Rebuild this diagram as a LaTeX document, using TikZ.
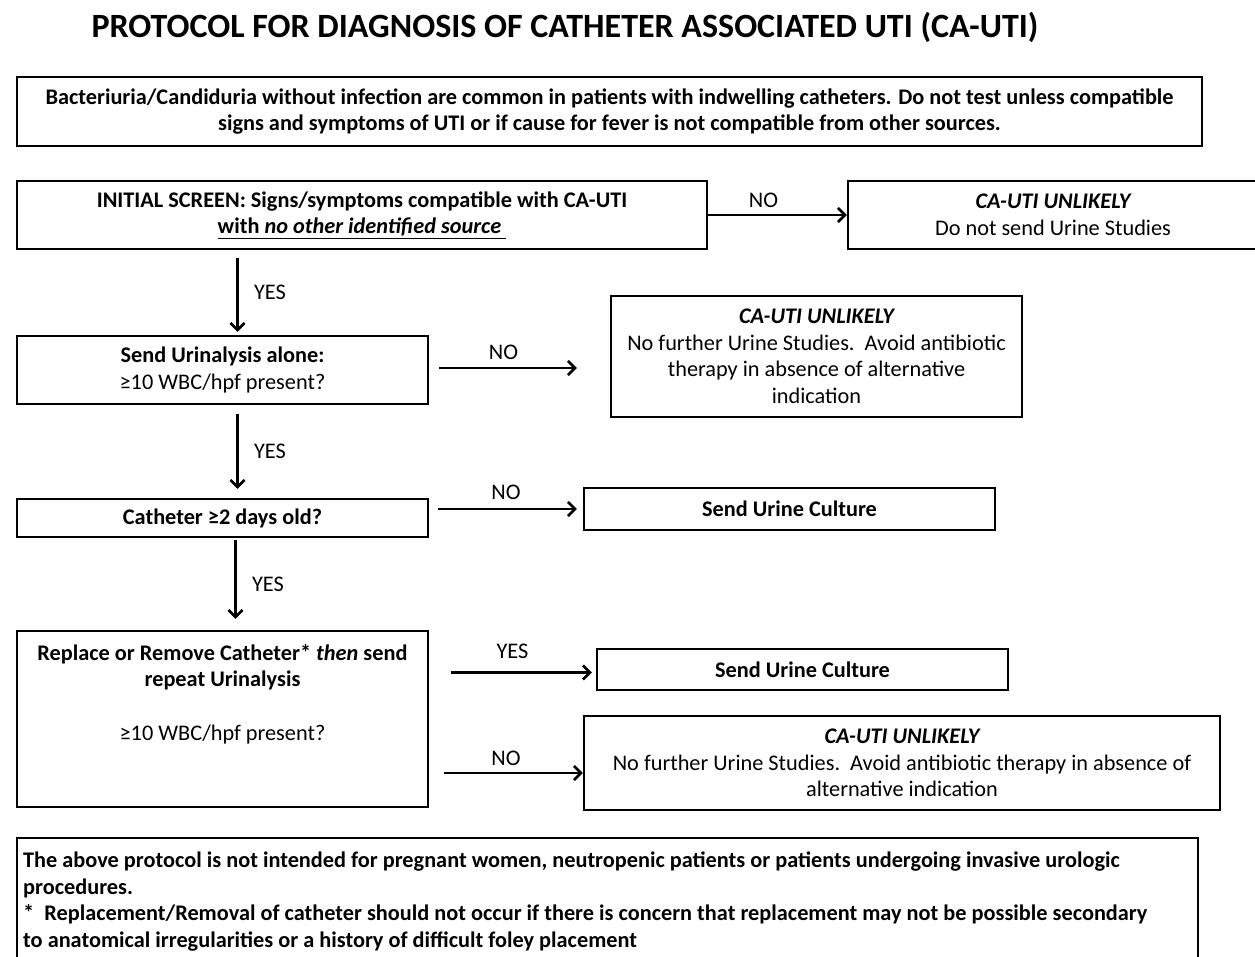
\documentclass[tikz,border=0pt]{standalone}
\usepackage{fontspec}
\setmainfont{Carlito}
\usetikzlibrary{arrows.meta}

\begin{document}
\begin{tikzpicture}[x=1pt, y=-1pt, >={Straight Barb[length=7pt,width=14pt]},
  every node/.style={font=\fontsize{22.3}{26.5}\selectfont},
  box/.style={draw, line width=2.4pt, align=center, inner sep=0pt},
  arr/.style={->, line width=2.6pt}]

  \clip (0,0) rectangle (1255,956);
  \useasboundingbox (0,0) rectangle (1255,956);

  % title
  \node (title) at (565,27) {\fontsize{34}{38}\selectfont\bfseries PROTOCOL FOR DIAGNOSIS OF CATHETER ASSOCIATED UTI (CA-UTI)};

  % positions
  \node[box, minimum width=1185, minimum height=69] (note) at (609.5,111.5)
    {\bfseries Bacteriuria/Candiduria without infection are common in patients with indwelling catheters. Do not test unless compatible\\
     \bfseries signs and symptoms of UTI or if cause for fever is not compatible from other sources.};
  \node[box, minimum width=690, minimum height=68] (screen) at (362,215)
    {\bfseries INITIAL SCREEN: Signs/symptoms compatible with CA-UTI\\
     \bfseries\underline{with \itshape no other identified source }};
  \node[box, minimum width=410, minimum height=68] (un1) at (1053,215)
    {\bfseries\itshape CA-UTI UNLIKELY\\ Do not send Urine Studies};
  \node[box, minimum width=411, minimum height=68] (ua) at (222.5,370)
    {\bfseries Send Urinalysis alone:\\ ≥10 WBC/hpf present?};
  \node[box, minimum width=411, minimum height=121] (un2) at (816.5,356.5)
    {\bfseries\itshape CA-UTI UNLIKELY\\ No further Urine Studies.\ \ Avoid antibiotic\\ therapy in absence of alternative\\ indication};
  \node[box, minimum width=411, minimum height=38] (cath) at (222.5,518)
    {\bfseries Catheter ≥2 days old?};
  \node[box, minimum width=411, minimum height=42] (uc1) at (789.5,509)
    {\bfseries Send Urine Culture};
  \node[box, minimum width=411, minimum height=176] (rep) at (222.5,719) {};
  \node[align=center] (reptext) at (222.5,694)
    {\bfseries Replace or Remove Catheter* \itshape then \upshape send\\ \bfseries repeat Urinalysis\\[27pt] ≥10 WBC/hpf present?};
  \node[box, minimum width=411, minimum height=41] (uc2) at (802.5,669.5)
    {\bfseries Send Urine Culture};
  \node[box, minimum width=636, minimum height=94] (un3) at (902,763)
    {\bfseries\itshape CA-UTI UNLIKELY\\ No further Urine Studies.\ \ Avoid antibiotic therapy in absence of\\ alternative indication};
  \node[box, minimum width=1181, minimum height=124] (foot) at (607.5,900) {};
  \node[anchor=north west, align=left, inner sep=0pt] (foottext) at (23,852)
    {\bfseries The above protocol is not intended for pregnant women, neutropenic patients or patients undergoing invasive urologic\\
     \bfseries procedures.\\
     \bfseries *\ \ Replacement/Removal of catheter should not occur if there is concern that replacement may not be possible secondary\\
     \bfseries to anatomical irregularities or a history of difficult foley placement};

  % arrows
  \draw[arr] (screen.east) -- (un1.west) node[midway, above=3pt, xshift=-14pt] {NO};
  \draw[arr, shorten <=8pt, shorten >=3pt] ([xshift=15pt]ua.north |- screen.south) -- ([xshift=15pt]ua.north)
    node[midway, right=12pt] {YES};
  \draw[arr, shorten <=10pt, shorten >=33pt] ([yshift=2pt]ua.east) -- ([yshift=2pt]ua.east -| un2.west)
    node[midway, above=4pt, xshift=-16pt] {NO};
  \draw[arr, shorten <=9pt, shorten >=9pt] ([xshift=15pt]cath.north |- ua.south) -- ([xshift=15pt]cath.north)
    node[midway, right=12pt] {YES};
  \draw[arr, shorten <=9pt, shorten >=6pt] (cath.east |- uc1.west) -- (uc1.west)
    node[midway, above=5pt] {NO};
  \draw[arr, shorten <=2pt, shorten >=11pt] ([xshift=13pt]rep.north |- cath.south) -- ([xshift=13pt]rep.north)
    node[midway, right=12pt] {YES};
  \draw[arr, shorten <=22pt, shorten >=4pt] ([yshift=-3pt]rep.east |- uc2.west) -- ([yshift=-3pt]uc2.west)
    node[midway, above=9pt] {YES};
  \draw[arr, shorten <=15pt] ([yshift=-10pt]rep.east |- un3.west) -- ([yshift=-10pt]un3.west)
    node[midway, above=3pt] {NO};

\end{tikzpicture}
\end{document}
